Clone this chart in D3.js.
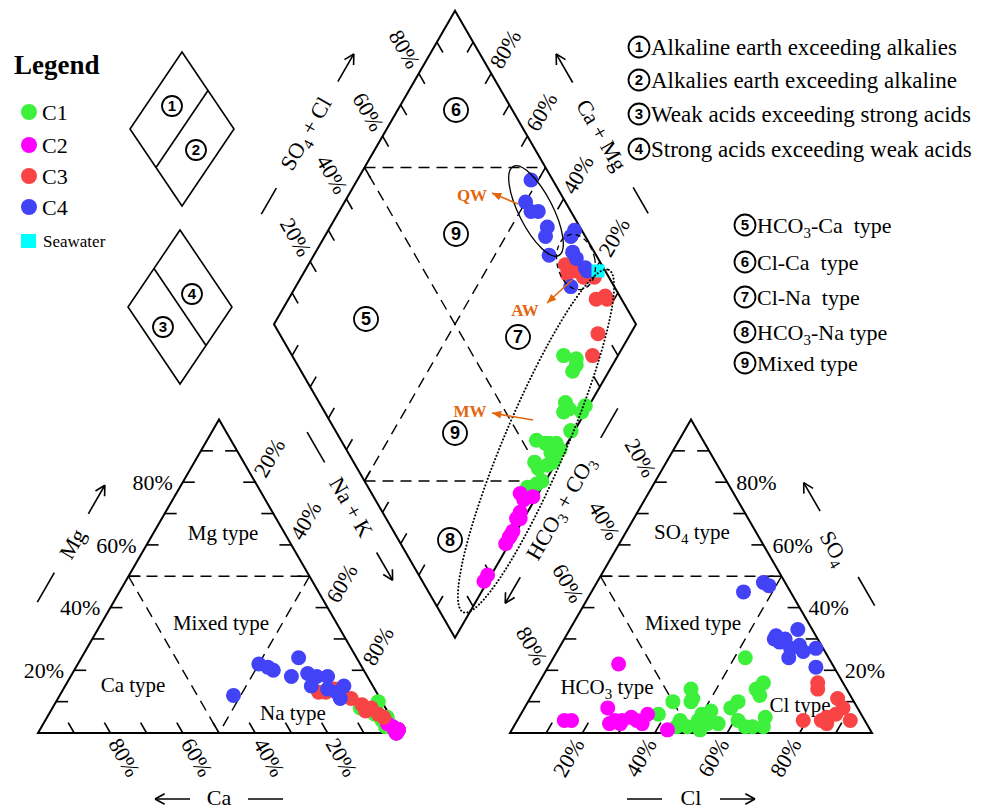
<!DOCTYPE html>
<html>
<head>
<meta charset="utf-8">
<script src="https://cdn.jsdelivr.net/npm/d3@7"></script>
<style>
  body { margin: 0; background: #fff; }
  text { font-family: "Liberation Serif", "Times New Roman", serif; fill: #000; }
</style>
</head>
<body>
<div id="chart"></div>
<script>
// ---- data (meq %) ----
// cations: [Ca, Mg, Na+K]   anions: [HCO3+CO3, SO4, Cl]
const groupNames = ["C1", "C2", "C3", "C4"];

const c1Cations = [[2,2,96],[1,1,98],[0,1,99],[2,2,96],[1,5,94],[1,1,98],[3,6,91],[0,1,99],[2,4,94],[1,2,97],
                   [1,0,99],[3,2,95],[1,2,97],[0,1,99],[1,0,99],[2,4,94],[0,1,99],[2,3,95],[3,4,93],[0,1,99],
                   [1,0,99],[4,6,90],[7,8,85],[3,7,90],[1,10,89]];
const c1Anions = [[56,6,38],[53,2,45],[51,4,45],[50,2,48],[50,10,40],[47,1,52],[46,4,50],[45,10,45],[44,3,53],[44,6,50],
                  [44,11,45],[43,14,43],[41,3,56],[41,7,52],[35,4,61],[34,2,64],[35,8,57],[32,2,66],[32,10,58],[29,2,69],
                  [27,5,68],[25,12,63],[25,14,61],[23,24,53],[22,16,62]];

const c2Cations = [[0,1,99],[1,0,99],[1,2,97],[0,1,99],[1,0,99],[0,1,99],[1,0,99],[0,1,99],[1,1,98],[0,1,99],
                   [1,1,98],[2,3,95],[0,1,99]];
const c2Anions = [[83,4,13],[81,4,15],[59,22,19],[69,8,23],[71,3,26],[69,4,27],[68,3,29],[67,4,29],[64,5,31],[63,4,33],
                  [62,3,35],[59,6,35],[56,1,43]];

const c3Cations = [[16,13,71],[14,13,73],[11,14,75],[10,12,78],[8,11,81],[6,9,85],[6,7,87],[4,8,88],[3,6,91],[2,5,93]];
const c3Anions = [[10,5,85],[11,3,86],[8,14,78],[7,16,77],[4,11,85],[7,6,87],[4,4,92],[4,8,88],[12,4,84],[17,4,79]];

const c4Cations = [[40,12,48],[28,22,50],[26,21,53],[25,20,55],[16,24,60],[21,18,61],[16,19,65],[17,15,68],[14,18,68],[11,18,71],
                   [13,14,73],[11,13,76],[8,15,77],[11,11,78]];
const c4Anions = [[6,28,66],[11,29,60],[11,24,65],[9,30,61],[9,27,64],[11,31,58],[13,45,42],[4,33,63],[2,27,71],[6,26,68],
                  [6,48,46],[12,30,58],[5,47,48],[5,21,74]];

const seawaterCation = [4, 15, 81];
const seawaterAnion = [2, 10, 88];

const tickValues = [10, 20, 30, 40, 50, 60, 70, 80, 90];
const tickLabels = [20, 40, 60, 80];

const acidNotes = ["Alkaline earth exceeding alkalies", "Alkalies earth exceeding alkaline",
                   "Weak acids exceeding strong acids", "Strong acids exceeding weak acids"];
const typeNotes = [["HCO", "3", "-Ca  type"], ["Cl-Ca  type"], ["Cl-Na  type"], ["HCO", "3", "-Na type"], ["Mixed type"]];

// ---- setup ----
const colors = { C1: "#3cf03c", C2: "#ff00ff", C3: "#f84444", C4: "#4242f6" };
const samples = {
  C1: [c1Cations, c1Anions], C2: [c2Cations, c2Anions],
  C3: [c3Cations, c3Anions], C4: [c4Cations, c4Anions]
};

const svg = d3.select("#chart").append("svg")
    .attr("width", 992)
    .attr("height", 809);

const side = 362, gap = 110, s3 = Math.sqrt(3) / 2;
const pct = d3.scaleLinear().domain([0, 100]).range([0, side]);
const baseY = 733, catX0 = 38, anX0 = catX0 + side + gap;
const B = [catX0 + side + gap / 2, baseY - gap * s3];

const cat = d => [catX0 + pct(d[2]) + pct(d[1]) / 2, baseY - pct(d[1]) * s3];
const an = d => [anX0 + pct(d[2]) + pct(d[1]) / 2, baseY - pct(d[1]) * s3];
const dia = (a, c) => [B[0] + (pct(a) - pct(c)) / 2, B[1] - (pct(a) + pct(c)) * s3];

const line = d3.line();
const frame = svg.append("g");

function poly(pts) {
  frame.append("path")
      .attr("d", line(pts) + "Z")
      .attr("fill", "none")
      .attr("stroke", "#000")
      .attr("stroke-width", 2);
}
function dash(p0, p1) {
  frame.append("line")
      .attr("x1", p0[0]).attr("y1", p0[1]).attr("x2", p1[0]).attr("y2", p1[1])
      .attr("stroke", "#000").attr("stroke-width", 1.4)
      .attr("stroke-dasharray", "11,7");
}

// outlines
poly([cat([100,0,0]), cat([0,0,100]), cat([0,100,0])]);
poly([an([100,0,0]), an([0,0,100]), an([0,100,0])]);
poly([dia(0,0), dia(100,0), dia(100,100), dia(0,100)]);

// internal dashed lines
dash(cat([50,50,0]), cat([0,50,50]));
dash(cat([50,50,0]), cat([50,0,50]));
dash(cat([0,50,50]), cat([50,0,50]));
dash(an([50,50,0]), an([0,50,50]));
dash(an([50,50,0]), an([50,0,50]));
dash(an([0,50,50]), an([50,0,50]));
dash(dia(50,100), dia(100,50));
dash(dia(0,50), dia(50,0));
dash(dia(0,50), dia(100,50));
dash(dia(50,0), dia(50,100));

// ticks and tick labels
const tickLen = 12;
function edge(at, dir, lab) {
  tickValues.forEach(v => {
    const p = at(v);
    frame.append("line")
        .attr("x1", p[0]).attr("y1", p[1])
        .attr("x2", p[0] + dir[0] * tickLen).attr("y2", p[1] + dir[1] * tickLen)
        .attr("stroke", "#000").attr("stroke-width", 1.6);
  });
  if (!lab) return;
  tickLabels.forEach(v => {
    const p = at(v);
    const x = p[0] + lab.off[0], y = p[1] + lab.off[1];
    frame.append("text")
        .attr("transform", "translate(" + x + "," + y + ") rotate(" + lab.rot + ")")
        .attr("text-anchor", lab.anchor)
        .attr("dy", "0.35em")
        .style("font-size", "22px")
        .text(v + "%");
  });
}
const o = 8;
edge(v => cat([100 - v, v, 0]), [1, 0], {off: [-10, 0], rot: 0, anchor: "end"});
edge(v => cat([v, 0, 100 - v]), [-0.5, -s3], {off: [0.5 * o, s3 * o], rot: 60, anchor: "start"});
edge(v => cat([0, 100 - v, v]), [-1, 0], {off: [0.5 * o, -s3 * o], rot: -60, anchor: "start"});
edge(v => an([v, 100 - v, 0]), [1, 0], {off: [-0.5 * o, -s3 * o], rot: 60, anchor: "end"});
edge(v => an([100 - v, 0, v]), [0.5, -s3], {off: [-0.5 * o, s3 * o], rot: -60, anchor: "end"});
edge(v => an([0, v, 100 - v]), [-1, 0], {off: [9, 0], rot: 0, anchor: "start"});
edge(v => dia(v, 100), [0.5, s3], {off: [-0.5 * o, -s3 * o], rot: 60, anchor: "end"});
edge(v => dia(100, v), [-0.5, s3], {off: [0.5 * o, -s3 * o], rot: -60, anchor: "start"});
edge(v => dia(0, v), [0.5, -s3]);
edge(v => dia(v, 0), [-0.5, -s3]);

// axis titles with arrows
function rich(sel, parts) {
  // parts: array of [text, isSub]
  let sub = false;
  parts.forEach(p => {
    const t = sel.append("tspan").text(p[0]);
    if (p[1] && !sub) { t.attr("dy", 5).style("font-size", "15px"); sub = true; }
    else if (!p[1] && sub) { t.attr("dy", -5); sub = false; }
  });
}
function axisTitle(M, u, n, opt) {
  const P = (t, q) => [M[0] + u[0] * t + n[0] * q, M[1] + u[1] * t + n[1] * q];
  const l0 = P(opt.line[0], opt.q), l1 = P(opt.line[1], opt.q);
  const a0 = P(opt.arrow[0], opt.q), a1 = P(opt.arrow[1], opt.q);
  frame.append("line").attr("x1", l0[0]).attr("y1", l0[1]).attr("x2", l1[0]).attr("y2", l1[1])
      .attr("stroke", "#000").attr("stroke-width", 1.6);
  frame.append("line").attr("x1", a0[0]).attr("y1", a0[1]).attr("x2", a1[0]).attr("y2", a1[1])
      .attr("stroke", "#000").attr("stroke-width", 1.6);
  const ang = Math.atan2(a1[1] - a0[1], a1[0] - a0[0]);
  [0.5, -0.5].forEach(da => {
    frame.append("line")
        .attr("x1", a1[0]).attr("y1", a1[1])
        .attr("x2", a1[0] - 11 * Math.cos(ang + da)).attr("y2", a1[1] - 11 * Math.sin(ang + da))
        .attr("stroke", "#000").attr("stroke-width", 1.6);
  });
  const tp = P(opt.tt, opt.tq);
  const t = frame.append("text")
      .attr("transform", "translate(" + tp[0] + "," + tp[1] + ") rotate(" + opt.rot + ")")
      .attr("text-anchor", "middle")
      .attr("dy", "0.35em")
      .style("font-size", "22px");
  rich(t, opt.parts);
}
const midL = cat([50, 50, 0]), midCa = cat([50, 0, 50]), midNa = cat([0, 50, 50]);
const midH = an([50, 50, 0]), midCl = an([50, 0, 50]), midS = an([0, 50, 50]);
const midUL = dia(50, 100), midUR = dia(100, 50);

axisTitle(midL, [0.5, -s3], [-s3, -0.5], {q: 66, arrow: [34, 67], line: [-68, -34], tt: 0, tq: 65, rot: -60, parts: [["Mg"]]});
axisTitle(midCa, [-1, 0], [0, 1], {q: 66, arrow: [29, 64], line: [-29, -64], tt: 0, tq: 64, rot: 0, parts: [["Ca"]]});
axisTitle(midNa, [0.5, s3], [s3, -0.5], {q: 70, arrow: [13, 45], line: [-126, -91], tt: -39, tq: 71, rot: 60, parts: [["Na + K"]]});
axisTitle(midH, [-0.5, s3], [-s3, -0.5], {q: 69, arrow: [41, 71], line: [-154, -120], tt: -39, tq: 69, rot: -60,
  parts: [["HCO"], ["3", true], [" + CO"], ["3", true]]});
axisTitle(midCl, [1, 0], [0, 1], {q: 66, arrow: [29, 64], line: [-64, -29], tt: 0, tq: 64, rot: 0, parts: [["Cl"]]});
axisTitle(midS, [-0.5, -s3], [s3, -0.5], {q: 66, arrow: [37, 70], line: [-72, -39], tt: -2, tq: 60, rot: 60,
  parts: [["SO"], ["4", true]]});
axisTitle(midUL, [0.5, -s3], [-s3, -0.5], {q: 66, arrow: [61, 93], line: [-92, -62], tt: 0, tq: 68, rot: -60,
  parts: [["SO"], ["4", true], [" + Cl"]]});
axisTitle(midUR, [-0.5, -s3], [s3, -0.5], {q: 66, arrow: [60, 93], line: [-91, -61], tt: 0, tq: 65, rot: 60,
  parts: [["Ca + Mg"]]});

// region labels in triangles
function label(x, y, parts, size) {
  const t = frame.append("text").attr("x", x).attr("y", y).attr("dy", "0.35em")
      .attr("text-anchor", "middle").style("font-size", (size || 21) + "px");
  rich(t, parts);
}
label(223, 533, [["Mg type"]]);
label(221, 623, [["Mixed type"]]);
label(133, 685, [["Ca type"]]);
label(293, 713, [["Na type"]]);
label(692, 532, [["SO"], ["4", true], [" type"]]);
label(693, 623, [["Mixed type"]]);
label(607, 687, [["HCO"], ["3", true], [" type"]]);
label(800, 705, [["Cl type"]]);

// circled numbers
function circled(x, y, r, num, fs) {
  frame.append("circle").attr("cx", x).attr("cy", y).attr("r", r)
      .attr("fill", "none").attr("stroke", "#000").attr("stroke-width", 1.8);
  frame.append("text").attr("x", x).attr("y", y).attr("dy", "0.36em")
      .attr("text-anchor", "middle")
      .style("font-family", "'Liberation Sans', Arial, sans-serif")
      .style("font-weight", "bold").style("font-size", fs + "px")
      .text(num);
}
circled(456, 110, 12, "6", 18);
circled(456, 234, 12, "9", 18);
circled(366, 319, 12, "5", 18);
circled(518, 337, 12, "7", 18);
circled(455, 433, 12, "9", 18);
circled(450, 540, 12, "8", 18);

// ---- data points ----
const pts = svg.append("g");
groupNames.forEach(g => {
  const [cats, ans] = samples[g];
  cats.forEach(d => {
    const p = cat(d);
    pts.append("circle").attr("cx", p[0]).attr("cy", p[1]).attr("r", 7.5).attr("fill", colors[g]);
  });
  ans.forEach(d => {
    const p = an(d);
    pts.append("circle").attr("cx", p[0]).attr("cy", p[1]).attr("r", 7.5).attr("fill", colors[g]);
  });
  cats.forEach((d, i) => {
    const a = ans[i][1] + ans[i][2], c = d[0] + d[1];
    const p = dia(a, c);
    pts.append("circle").attr("cx", p[0]).attr("cy", p[1]).attr("r", 7.5).attr("fill", colors[g]);
  });
});
const sw = dia(seawaterAnion[1] + seawaterAnion[2], seawaterCation[0] + seawaterCation[1]);
pts.append("rect").attr("x", sw[0] - 6.5).attr("y", sw[1] - 6.5).attr("width", 13).attr("height", 13)
    .attr("fill", "#00ffff");

// ---- groupings (ellipses + arrows) ----
const ann = svg.append("g");
ann.append("ellipse").attr("transform", "translate(536,211) rotate(63)")
    .attr("rx", 50).attr("ry", 17).attr("fill", "none").attr("stroke", "#000").attr("stroke-width", 1.3);
ann.append("ellipse").attr("transform", "translate(576,262) rotate(-12)")
    .attr("rx", 19).attr("ry", 28).attr("fill", "none").attr("stroke", "#000").attr("stroke-width", 1.3)
    .attr("stroke-dasharray", "5,4");
ann.append("ellipse").attr("transform", "translate(536,441) rotate(-67)")
    .attr("rx", 186).attr("ry", 31).attr("fill", "none").attr("stroke", "#000").attr("stroke-width", 2)
    .attr("stroke-dasharray", "0.1,3.4").attr("stroke-linecap", "round");

const orange = "#e4650c";
function oArrow(x0, y0, x1, y1, txt, tx, ty) {
  ann.append("line").attr("x1", x0).attr("y1", y0).attr("x2", x1).attr("y2", y1)
      .attr("stroke", orange).attr("stroke-width", 1.6);
  const ang = Math.atan2(y1 - y0, x1 - x0);
  const h = [[x1, y1],
             [x1 - 10 * Math.cos(ang + 0.4), y1 - 10 * Math.sin(ang + 0.4)],
             [x1 - 10 * Math.cos(ang - 0.4), y1 - 10 * Math.sin(ang - 0.4)]];
  ann.append("path").attr("d", line(h) + "Z").attr("fill", orange);
  ann.append("text").attr("x", tx).attr("y", ty).attr("dy", "0.35em").attr("text-anchor", "middle")
      .style("font-size", "17px").style("font-weight", "bold").style("fill", orange).text(txt);
}
oArrow(518, 204, 492, 193, "QW", 472, 195);
oArrow(572, 280, 547, 303, "AW", 525, 310);
oArrow(533, 420, 492, 413, "MW", 470, 411);

// ---- legend ----
const leg = svg.append("g");
leg.append("text").attr("x", 14).attr("y", 74).style("font-size", "27px").style("font-weight", "bold").text("Legend");
const legY = [112, 145, 176, 207];
groupNames.forEach((g, i) => {
  leg.append("circle").attr("cx", 29).attr("cy", legY[i]).attr("r", 8).attr("fill", colors[g]);
  leg.append("text").attr("x", 42).attr("y", legY[i]).attr("dy", "0.35em").style("font-size", "22px").text(g);
});
leg.append("rect").attr("x", 21).attr("y", 234).attr("width", 15).attr("height", 14).attr("fill", "#00ffff");
leg.append("text").attr("x", 43).attr("y", 241).attr("dy", "0.35em").style("font-size", "17px").text("Seawater");

// small key diamonds
function keyDiamond(cx, cy, hw, hh, cut) {
  const T = [cx, cy - hh], R = [cx + hw, cy], Bt = [cx, cy + hh], L = [cx - hw, cy];
  leg.append("path").attr("d", line([T, R, Bt, L]) + "Z").attr("fill", "none")
      .attr("stroke", "#000").attr("stroke-width", 1.6);
  const mid = (p, q) => [(p[0] + q[0]) / 2, (p[1] + q[1]) / 2];
  const seg = cut === "ur" ? [mid(T, R), mid(L, Bt)] : [mid(T, L), mid(R, Bt)];
  leg.append("line").attr("x1", seg[0][0]).attr("y1", seg[0][1]).attr("x2", seg[1][0]).attr("y2", seg[1][1])
      .attr("stroke", "#000").attr("stroke-width", 1.6);
}
keyDiamond(182, 129, 52, 77, "ur");
keyDiamond(180, 307, 52, 77, "ul");
circled(172, 106, 10, "1", 15);
circled(196, 150, 10, "2", 15);
circled(192, 294, 10, "4", 15);
circled(163, 327, 10, "3", 15);

// ---- notes ----
const noteY1 = [47, 80, 114, 149];
acidNotes.forEach((t, i) => {
  circled(639, noteY1[i], 10.5, String(i + 1), 15);
  leg.append("text").attr("x", 651).attr("y", noteY1[i]).attr("dy", "0.35em")
      .style("font-size", "23px").text(t);
});
const noteY2 = [225, 262, 297, 332, 363];
typeNotes.forEach((parts, i) => {
  circled(745, noteY2[i], 10.5, String(i + 5), 15);
  const t = leg.append("text").attr("x", 757).attr("y", noteY2[i]).attr("dy", "0.35em")
      .style("font-size", "22px").style("white-space", "pre");
  rich(t, parts.map((p, j) => [p, parts.length === 3 && j === 1]));
});
</script>
</body>
</html>
